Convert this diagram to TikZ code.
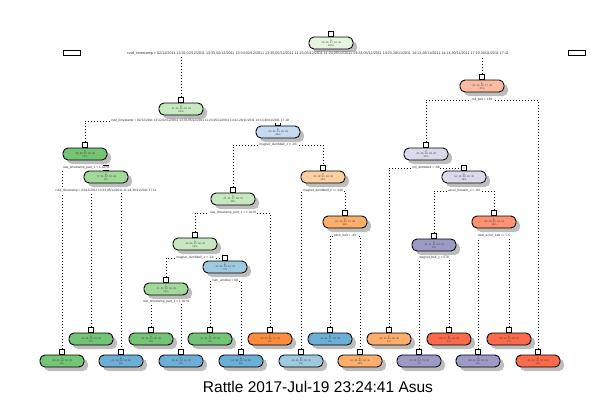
\documentclass[tikz,border=0pt]{standalone}
\usepackage{fontspec}
\setmainfont{Liberation Sans}
\usetikzlibrary{shadows,backgrounds}

% fill colours (Brewer greens, blues, oranges, purples, reds)
\definecolor{gA0}{HTML}{E5F5E0}\definecolor{gA1}{HTML}{C7E9C0}
\definecolor{gA2}{HTML}{A1D99B}\definecolor{gA3}{HTML}{74C476}
\definecolor{bB1}{HTML}{C6DBEF}\definecolor{bB2}{HTML}{9ECAE1}
\definecolor{bB3}{HTML}{6BAED6}
\definecolor{oC1}{HTML}{FDD0A2}\definecolor{oC2}{HTML}{FDAE6B}
\definecolor{oC3}{HTML}{FD8D3C}
\definecolor{pD1}{HTML}{DADAEB}\definecolor{pD3}{HTML}{9E9AC8}
\definecolor{rE1}{HTML}{FCBBA1}\definecolor{rE2}{HTML}{FC9272}
\definecolor{rE3}{HTML}{FB6A4A}

% a tree node: name, x, y, fill, class, probabilities, share
\newcommand{\treenode}[7]{%
  \node[tnode, fill=#4] (#1) at (#2,#3)
    {#5\\#6\\#7};
  \node[tab] (#1t) at (#1.north) {};}
% a split: parent label node, left child, right child
\newcommand{\splitedge}[3]{%
  \draw[conn] (#2t.north) |- (#1.center) -| (#3t.north);}

\begin{document}
\begin{tikzpicture}[x=1pt, y=-1pt,
  tnode/.style={draw=black, line width=0.9pt, rounded corners=5pt,
    minimum width=44pt, minimum height=12pt, inner sep=0pt, align=center,
    drop shadow={shadow xshift=4pt, shadow yshift=-4pt, fill=black!26, opacity=1},
    font=\fontsize{2.5}{2.7}\selectfont, text=black!75},
  tab/.style={draw=black, fill=white, line width=0.8pt, minimum width=5pt,
    minimum height=4.5pt, inner sep=0pt, anchor=south},
  split/.style={fill=white, inner sep=0.7pt, text=black!80,
    font=\fontsize{3.2}{3.5}\selectfont},
  conn/.style={line width=0.9pt, dash pattern=on 0.9pt off 2.1pt},
  legbox/.style={draw=black, fill=white, line width=0.8pt, minimum width=17pt,
    minimum height=5pt, inner sep=0pt}]

\useasboundingbox (0,0) rectangle (600,400);

% internal nodes
\treenode{n1}{331}{43}{gA0}{A}{.28 .19 .17 .16 .18}{100\%}
\treenode{n2}{181}{109}{gA1}{A}{.41 .21 .18 .16 .04}{63\%}
\treenode{n3}{482}{86}{rE1}{E}{.05 .16 .16 .17 .46}{37\%}
\treenode{n4}{85}{154}{gA3}{A}{.88 .08 .00 .00 .04}{17\%}
\treenode{n5}{106}{177}{gA2}{A}{.72 .25 .00 .00 .03}{8\%}
\treenode{n6}{278}{132}{bB1}{B}{.23 .25 .24 .22 .06}{46\%}
\treenode{n7}{233}{199}{gA1}{A}{.41 .31 .17 .08 .03}{23\%}
\treenode{n8}{323}{177}{oC1}{C}{.05 .19 .31 .36 .09}{23\%}
\treenode{n9}{195}{244}{gA1}{A}{.49 .33 .09 .06 .03}{19\%}
\treenode{n10}{345}{222}{oC2}{C}{.02 .13 .46 .31 .08}{14\%}
\treenode{n11}{166}{289}{gA2}{A}{.71 .21 .03 .04 .01}{12\%}
\treenode{n12}{225}{267}{bB2}{B}{.10 .56 .20 .10 .04}{7\%}
\treenode{n13}{426}{154}{pD1}{D}{.05 .16 .18 .33 .28}{24\%}
\treenode{n14}{464}{177}{pD1}{D}{.04 .15 .08 .40 .33}{19\%}
\treenode{n15}{494}{222}{rE2}{E}{.05 .18 .05 .18 .54}{10\%}
\treenode{n16}{434}{245}{pD3}{D}{.02 .11 .11 .64 .12}{9\%}

% leaves
\treenode{l62}{62}{361}{gA3}{A}{.99 .01 .00 .00 .00}{9\%}
\treenode{l91}{91}{339}{gA3}{A}{.96 .04 .00 .00 .00}{6\%}
\treenode{l121}{121}{361}{bB3}{B}{.21 .79 .00 .00 .00}{2\%}
\treenode{l151}{151}{339}{gA3}{A}{.92 .08 .00 .00 .00}{9\%}
\treenode{l181}{181}{361}{bB3}{B}{.10 .61 .12 .15 .02}{3\%}
\treenode{l210}{210}{339}{gA3}{A}{.62 .32 .03 .02 .01}{3\%}
\treenode{l241}{241}{361}{bB3}{B}{.02 .68 .20 .08 .02}{4\%}
\treenode{l270}{270}{339}{oC3}{C}{.09 .20 .56 .12 .03}{4\%}
\treenode{l301}{301}{361}{bB2}{B}{.10 .36 .09 .30 .15}{9\%}
\treenode{l330}{330}{339}{bB3}{B}{.06 .62 .17 .12 .03}{2\%}
\treenode{l360}{360}{361}{oC2}{C}{.01 .05 .55 .34 .05}{12\%}
\treenode{l389}{389}{339}{oC2}{C}{.09 .20 .54 .09 .08}{5\%}
\treenode{l419}{419}{361}{pD3}{D}{.00 .09 .12 .75 .04}{7\%}
\treenode{l449}{449}{339}{rE3}{E}{.08 .17 .06 .26 .43}{2\%}
\treenode{l478}{478}{361}{pD3}{D}{.09 .31 .08 .36 .16}{3\%}
\treenode{l509}{509}{339}{rE3}{E}{.03 .12 .03 .10 .72}{7\%}
\treenode{l538}{538}{361}{rE3}{E}{.00 .00 .00 .00 1.00}{13\%}

% split labels
\node[split, font=\fontsize{3.7}{4}\selectfont] (s1) at (318,54) {cvtd\_timestamp = 02/12/2011 13:32,02/12/2011 13:33,02/12/2011 13:34,02/12/2011 13:35,05/12/2011 11:23,05/12/2011 11:24,05/12/2011 14:22,05/12/2011 14:23,28/11/2011 14:13,28/11/2011 14:14,30/11/2011 17:10,30/11/2011 17:11};
\node[split] (s2) at (200,121) {cvtd\_timestamp = 02/12/2011 13:32,02/12/2011 13:33,05/12/2011 11:23,05/12/2011 14:22,28/11/2011 14:13,30/11/2011 17:10};
\node[split] (s3) at (482,100) {roll\_belt < 130};
\node[split] (s4) at (86,168) {raw\_timestamp\_part\_1 < 1.3e+9};
\node[split] (s5) at (106,191) {cvtd\_timestamp = 02/12/2011 13:33,05/12/2011 11:24,30/11/2011 17:11};
\node[split] (s6) at (278,145) {magnet\_dumbbell\_z < -93};
\node[split] (s7) at (233,213) {raw\_timestamp\_part\_1 < 1.3e+9};
\node[split] (s8) at (323,191) {magnet\_dumbbell\_z >= 290};
\node[split] (s9) at (195,258) {magnet\_dumbbell\_z < -24};
\node[split] (s10) at (345,236) {pitch\_belt < -43};
\node[split] (s11) at (166,302) {raw\_timestamp\_part\_1 < 1.3e+9};
\node[split] (s12) at (225,281) {num\_window < 68};
\node[split] (s13) at (426,168) {roll\_dumbbell < -68};
\node[split] (s14) at (464,191) {accel\_forearm\_x < -84};
\node[split] (s15) at (494,236) {total\_accel\_belt >= 7.5};
\node[split] (s16) at (434,258) {magnet\_belt\_y < 578};

% the two boxes beside the root split
\node[legbox] (bl) at (72,53) {};
\node[legbox] (br) at (577,53) {};

% dotted branches, behind the nodes and labels
\begin{scope}[on background layer]
\splitedge{s1}{n2}{n3}
\splitedge{s2}{n4}{n6}
\splitedge{s3}{n13}{l538}
\splitedge{s4}{l62}{n5}
\splitedge{s5}{l91}{l121}
\splitedge{s6}{n7}{n8}
\splitedge{s7}{n9}{l270}
\splitedge{s8}{l301}{n10}
\splitedge{s9}{n11}{n12}
\splitedge{s10}{l330}{l360}
\splitedge{s11}{l151}{l181}
\splitedge{s12}{l210}{l241}
\splitedge{s13}{l389}{n14}
\splitedge{s14}{n16}{n15}
\splitedge{s15}{l478}{l509}
\splitedge{s16}{l419}{l449}
\end{scope}

\node[font=\fontsize{15.5}{18}\selectfont, anchor=base] (cap) at (318,392)
  {Rattle 2017-Jul-19 23:24:41 Asus};
\end{tikzpicture}
\end{document}
